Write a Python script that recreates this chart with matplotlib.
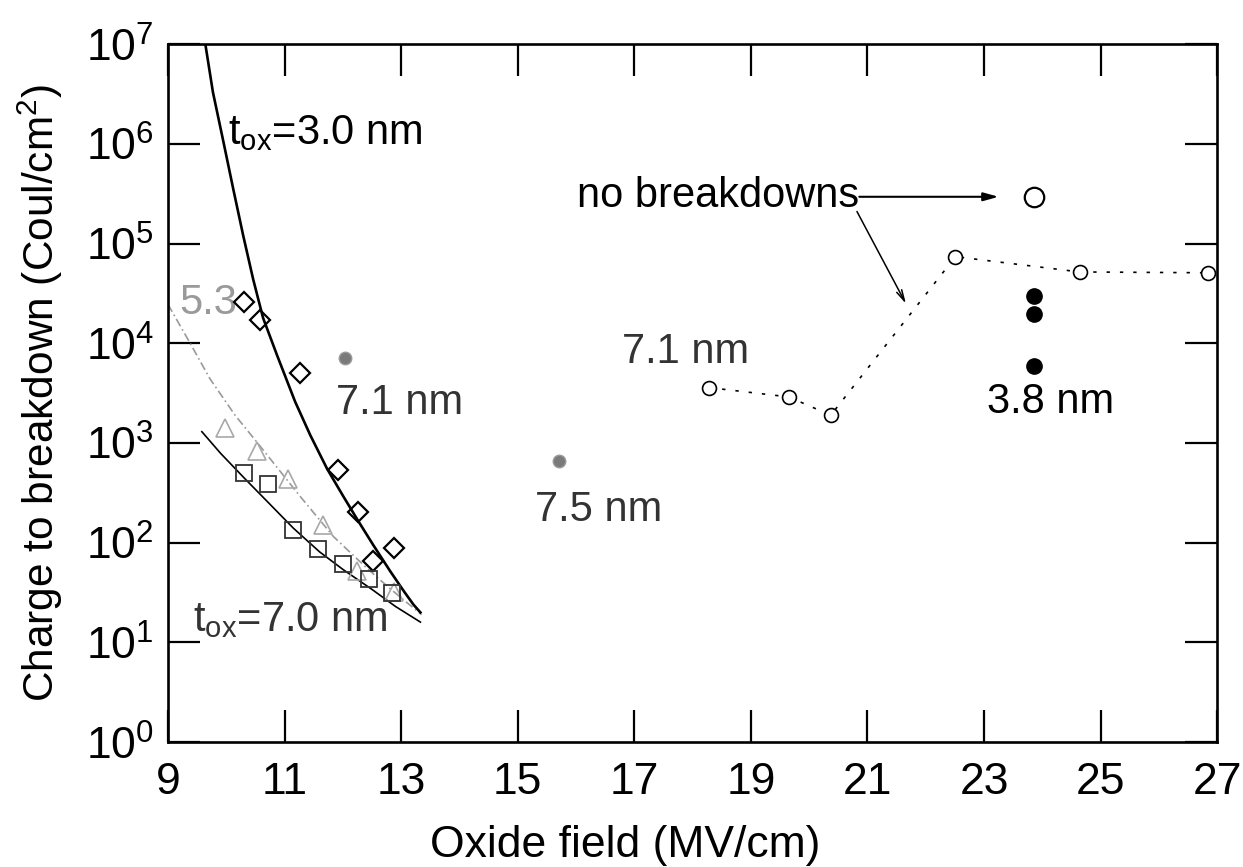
import matplotlib
matplotlib.use("Agg")
import matplotlib.pyplot as plt
from matplotlib.ticker import NullLocator

plt.rcParams["font.family"] = ["Liberation Sans", "DejaVu Sans"]
plt.rcParams["mathtext.fontset"] = "custom"
plt.rcParams["mathtext.rm"] = "Liberation Sans"
plt.rcParams["mathtext.it"] = "Liberation Sans"
plt.rcParams["mathtext.bf"] = "Liberation Sans:bold"

# --- data ---------------------------------------------------------------
# t_ox = 3.0 nm fitted curve + diamonds
fit30_x = [9.64, 9.77, 9.95, 10.12, 10.29, 10.46, 10.63, 10.87, 11.18, 11.44,
           11.73, 12.01, 12.25, 12.52, 12.81, 13.04, 13.21, 13.33]
fit30_y = [1.0e7, 3.3e6, 1.05e6, 3.5e5, 1.2e5, 4.4e4, 1.8e4, 7.6e3, 2.6e3, 1.2e3,
           550, 290, 170, 95, 52, 33, 24, 20]
dia_x = [10.31, 10.58, 11.27, 11.92, 12.26, 12.52, 12.88]
dia_y = [2.6e4, 1.7e4, 5.0e3, 540, 205, 66, 88]

# 5.3 nm fitted curve + triangles
fit53_x = [9.0, 9.38, 9.72, 10.15, 10.58, 11.27, 11.84, 12.42, 12.80, 13.35]
fit53_y = [2.45e4, 1.0e4, 4.4e3, 1.9e3, 930, 290, 115, 55, 35, 19]
tri_x = [9.98, 10.53, 11.06, 11.66, 12.25, 12.87]
tri_y = [1400, 830, 435, 152, 52, 32]

# t_ox = 7.0 nm fitted curve + squares
fit70_x = [9.58, 9.9, 10.3, 10.7, 11.15, 11.6, 12.0, 12.5, 12.9, 13.33]
fit70_y = [1.3e3, 790, 450, 260, 140, 81, 54, 34, 23, 16]
sq_x = [10.31, 10.72, 11.15, 11.58, 12.01, 12.44, 12.85]
sq_y = [500, 390, 134, 86, 61, 43, 31]

# single gray points (7.1 nm, 7.5 nm)
gray_x = [12.04, 15.70]
gray_y = [7.1e3, 660]

# 7.1 nm high-field series (open circles, dotted)
c71_x = [18.28, 19.65, 20.37, 22.51, 24.64, 26.85]
c71_y = [3.6e3, 2.9e3, 1.9e3, 7.4e4, 5.2e4, 5.1e4]

# no-breakdown point and 3.8 nm points
nobd_x = [23.85]
nobd_y = [2.95e5]
c38_x = [23.85, 23.85, 23.85]
c38_y = [2.95e4, 1.95e4, 5.9e3]

xticks = list(range(9, 28, 2))
ydecades = list(range(0, 8))

# --- figure --------------------------------------------------------------
fig = plt.figure(figsize=(12.43, 8.67), dpi=100)
ax = fig.add_axes([0.1352, 0.144, 0.844, 0.805])

ax.plot(fit30_x, fit30_y, color="black", lw=1.9, zorder=3)
ax.plot(fit53_x, fit53_y, color="#9a9a9a", lw=1.2,
        dashes=(5, 2, 1, 2), zorder=2)
ax.plot(fit70_x, fit70_y, color="black", lw=1.2, zorder=3)

ax.plot(dia_x, dia_y, ls="none", marker="D", ms=10.5, mfc="none",
        mec="black", mew=1.6, zorder=4)
ax.plot(tri_x, tri_y, ls="none", marker="^", ms=13, mfc="none",
        mec="#a8a8a8", mew=1.2, zorder=4)
ax.plot(sq_x, sq_y, ls="none", marker="s", ms=12, mfc="none",
        mec="#333333", mew=1.3, zorder=4)
ax.plot(gray_x, gray_y, ls="none", marker="o", ms=9, mfc="#7a7a7a",
        mec="#9a9a9a", mew=1, zorder=4)

ax.plot(c71_x, c71_y, color="black", lw=1.2, ls=(0, (2, 6)),
        marker="o", ms=10, mfc="white", mec="black", mew=1.2, zorder=4)
ax.plot(nobd_x, nobd_y, ls="none", marker="o", ms=14, mfc="white",
        mec="black", mew=1.6, zorder=4)
ax.plot(c38_x, c38_y, ls="none", marker="o", ms=11, mfc="black",
        mec="black", zorder=4)

# --- annotations ---------------------------------------------------------
fs = 30
ax.text(10.03, 1.0e6, r"t$_{\mathrm{ox}}$=3.0 nm", fontsize=fs, va="baseline")
ax.text(9.2, 1.95e4, "5.3", fontsize=fs, va="baseline", color="#9a9a9a")
ax.text(11.88, 1.95e3, "7.1 nm", fontsize=fs, va="baseline", color="#333333")
ax.text(15.30, 1.66e2, "7.5 nm", fontsize=fs, va="baseline", color="#333333")
ax.text(9.43, 1.3e1, r"t$_{\mathrm{ox}}$=7.0 nm", fontsize=fs, va="baseline",
        color="#333333")
ax.text(18.97, 6.3e3, "7.1 nm", fontsize=fs, va="baseline", ha="right",
        color="#333333")
ax.text(23.05, 2.0e3, "3.8 nm", fontsize=fs, va="baseline")
ax.text(20.86, 3.0e5, "no breakdowns", fontsize=fs, va="center", ha="right")

ax.annotate("", xy=(23.25, 2.95e5), xytext=(20.86, 2.95e5),
            arrowprops=dict(arrowstyle="-|>,head_length=0.9,head_width=0.25",
                            color="black", lw=1.5, shrinkA=0, shrinkB=0))
ax.annotate("", xy=(21.66, 2.5e4), xytext=(20.82, 2.1e5),
            arrowprops=dict(arrowstyle="->,head_length=0.8,head_width=0.2",
                            color="black", lw=1.1, shrinkA=0, shrinkB=0))

# --- axes ----------------------------------------------------------------
ax.set_yscale("log")
ax.set_xlim(9, 27)
ax.set_ylim(1, 1e7)
ax.set_xticks(xticks)
ax.set_xticklabels([str(t) for t in xticks])
ax.set_yticks([10.0 ** d for d in ydecades])
ax.set_yticklabels([r"$\mathregular{10^{%d}}$" % d for d in ydecades])
ax.yaxis.set_minor_locator(NullLocator())
ax.xaxis.set_minor_locator(NullLocator())
ax.tick_params(which="major", direction="in", top=True, right=True,
               length=23, width=1.6, labelsize=32, color="black")
ax.tick_params(axis="x", pad=14)
ax.tick_params(axis="y", pad=10)
for spine in ax.spines.values():
    spine.set_linewidth(1.9)

ax.set_xlabel("Oxide field (MV/cm)", fontsize=32)
ax.xaxis.set_label_coords(0.436, -0.118)
ax.set_ylabel(r"Charge to breakdown (Coul/cm$^\mathregular{2}$)", fontsize=30.5)
ax.yaxis.set_label_coords(-0.098, 0.5)

fig.savefig("out.png", dpi=100)
